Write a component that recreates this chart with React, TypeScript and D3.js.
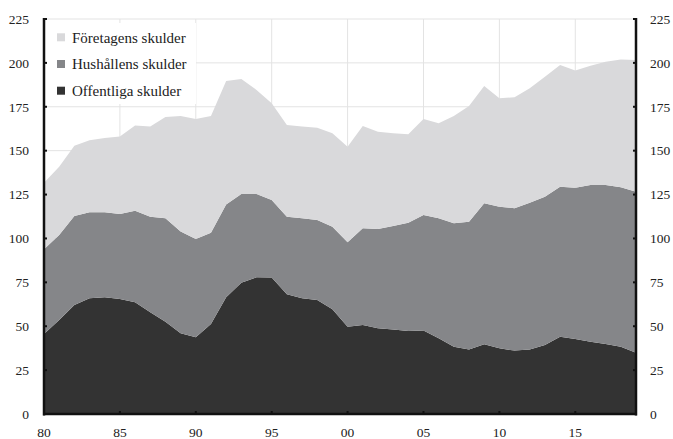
import React from "react";
import * as d3 from "d3";

const years = d3.range(1980, 2020);
const offentliga = [45.6, 53.5, 62.1, 65.9, 66.5, 65.5, 63.6, 57.9, 52.6, 46.0, 43.7, 51.3, 66.5, 74.8, 77.9, 77.7, 68.2, 65.9, 64.9, 59.6, 49.7, 50.7, 48.8, 48.2, 47.3, 47.5, 43.1, 38.3, 36.8, 39.7, 37.4, 36.1, 36.8, 39.3, 44.0, 42.7, 41.2, 39.9, 38.3, 34.9];
const hushallen = [48.2, 48.5, 50.7, 49.0, 48.4, 48.4, 52.2, 54.5, 58.9, 57.9, 56.0, 52.0, 52.9, 50.5, 47.4, 44.2, 44.2, 45.6, 45.6, 47.1, 48.1, 55.1, 56.6, 58.9, 61.7, 65.9, 68.4, 70.3, 72.7, 80.3, 80.7, 81.1, 83.6, 84.5, 85.5, 86.2, 89.2, 90.5, 90.8, 91.7];
const foretagen = [37.9, 38.9, 40.0, 41.1, 42.3, 44.1, 48.6, 51.3, 57.7, 65.8, 68.3, 66.4, 70.3, 65.5, 59.3, 55.1, 52.2, 52.2, 52.6, 53.2, 54.5, 58.2, 55.4, 52.8, 50.3, 54.6, 54.1, 61.1, 65.9, 66.8, 61.7, 63.2, 65.1, 68.3, 69.3, 66.7, 68.0, 70.3, 72.9, 75.1];

const seriesKeys = ["off", "hus", "for"];
const seriesLabels = ["Offentliga skulder", "Hushållens skulder", "Företagens skulder"];
const seriesColors = ["#333333", "#858689", "#d9d9db"];
const yTicks = [0, 25, 50, 75, 100, 125, 150, 175, 200, 225];
const xTicks = [1980, 1985, 1990, 1995, 2000, 2005, 2010, 2015];

const W = 673, H = 439;
const left = 44, right = 636, top = 19, bottom = 414;
const font = "Liberation Serif, DejaVu Serif, serif";

export default function App() {
  const rows = years.map((y, i) => ({ year: y, off: offentliga[i], hus: hushallen[i], for: foretagen[i] }));
  const x = d3.scaleLinear().domain([1980, 2019]).range([left, right]);
  const y = d3.scaleLinear().domain([0, 225]).range([bottom, top]);
  const stacked = d3.stack<any>().keys(seriesKeys)(rows);
  const area = d3.area<any>()
    .x((d) => x(d.data.year))
    .y0((d) => y(d[0]))
    .y1((d) => y(d[1]));

  const legendOrder = [2, 1, 0];
  const ts = { fontFamily: font };

  return (
    <svg width={W} height={H} style={{ position: "absolute", left: 0, top: 0, fontFamily: font }}>
      <rect width={W} height={H} fill="#ffffff" />
      {yTicks.map((t) => (
        <line key={"gy" + t} x1={left} x2={right} y1={y(t)} y2={y(t)} stroke="#e3e3e3" strokeWidth={1} />
      ))}
      {xTicks.map((t) => (
        <line key={"gx" + t} x1={x(t)} x2={x(t)} y1={top} y2={bottom} stroke="#e3e3e3" strokeWidth={1} />
      ))}
      {stacked.map((s, i) => (
        <path key={s.key} d={area(s) || ""} fill={seriesColors[i]} />
      ))}
      <rect x={left + 2} y={23} width={150} height={81} fill="#ffffff" />
      <line x1={left} x2={left} y1={top - 1} y2={bottom + 1.5} stroke="#111" strokeWidth={2.5} />
      <line x1={right} x2={right} y1={top - 1} y2={bottom + 1.5} stroke="#111" strokeWidth={2.5} />
      <line x1={left - 1} x2={right + 1} y1={bottom} y2={bottom} stroke="#111" strokeWidth={2.5} />
      {yTicks.map((t) => (
        <g key={"ty" + t}>
          <line x1={left} x2={left + 3} y1={y(t)} y2={y(t)} stroke="#111" strokeWidth={2} />
          <line x1={right - 3} x2={right} y1={y(t)} y2={y(t)} stroke="#111" strokeWidth={2} />
          <text style={ts} x={29} y={y(t)} dy="0.35em" textAnchor="end" fontSize={13.5} fill="#222">{t}</text>
          <text style={ts} x={650} y={y(t)} dy="0.35em" textAnchor="start" fontSize={13.5} fill="#222">{t}</text>
        </g>
      ))}
      {xTicks.map((t) => (
        <g key={"tx" + t}>
          <line x1={x(t)} x2={x(t)} y1={bottom} y2={bottom - 3} stroke="#111" strokeWidth={2} />
          <text style={ts} x={x(t)} y={437} textAnchor="middle" fontSize={13.5} fill="#222">{String(t % 100).padStart(2, "0")}</text>
        </g>
      ))}
      {legendOrder.map((si, k) => (
        <g key={"lg" + si} transform={`translate(57, ${37.3 + k * 26.7})`}>
          <rect x={0} y={-4} width={8} height={8} fill={seriesColors[si]} />
          <text style={ts} x={15} y={0} dy="0.35em" fontSize={15} fill="#222">{seriesLabels[si]}</text>
        </g>
      ))}
    </svg>
  );
}
